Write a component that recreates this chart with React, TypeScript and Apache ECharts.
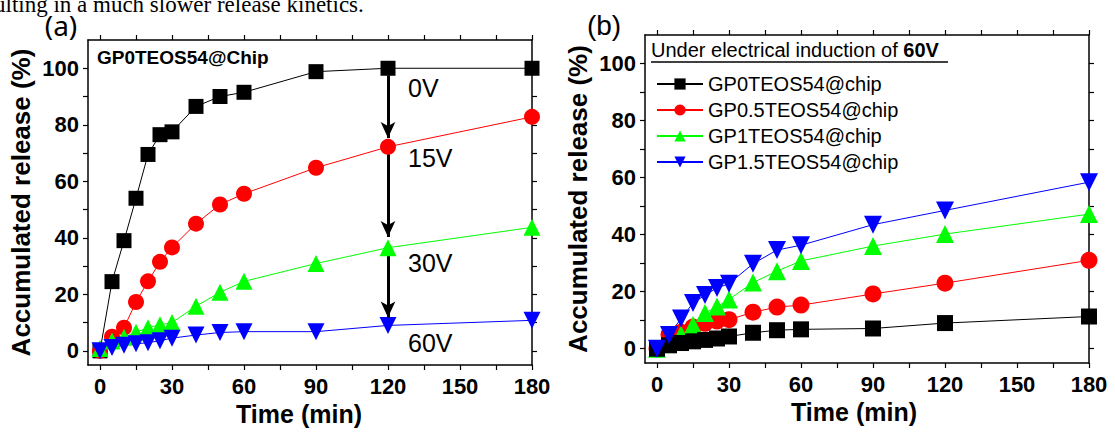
import React, { useEffect, useRef } from "react";
import * as echarts from "echarts";

// ---------- data ----------
const times = [0, 5, 10, 15, 20, 25, 30, 40, 50, 60, 90, 120, 180];

// panel (a): GP0TEOS54@Chip under different voltages
const a0V = [0, 24.5, 39, 54, 69.5, 76.5, 77.5, 86.5, 90, 91.5, 98.8, 100, 100];
const a15V = [0, 5, 8.2, 17.3, 24.6, 31.5, 36.6, 45, 51.8, 55.6, 64.8, 72.2, 82.8];
const a30V = [0.8, 3.5, 4.8, 6.6, 8.2, 9.2, 10, 15.8, 20.7, 24.6, 30.9, 36.5, 43.7];
const a60V = [0, 1.2, 2, 2.5, 2.9, 3.6, 4.5, 5.6, 6.5, 6.8, 6.8, 9, 10.8];

// panel (b): 60V, different GP contents
const bGP0 = [0, 1.2, 2, 2.6, 3.1, 3.6, 4.3, 5.6, 6.5, 6.8, 7.1, 9, 11.3];
const bGP05 = [0, 5, 5.8, 7.6, 8.9, 9.7, 10.2, 12.8, 14.6, 15.3, 19.2, 23, 31];
const bGP1 = [0, 2.4, 5, 8.3, 12.5, 14.8, 17.3, 23.2, 27.2, 30.8, 36, 40.2, 47.2];
const bGP15 = [0, 4.8, 10.6, 16, 18.8, 21.3, 22.8, 29.8, 34.6, 36.3, 43.5, 48.5, 58.4];

const legendNames = ["GP0TEOS54@chip", "GP0.5TEOS54@chip", "GP1TEOS54@chip", "GP1.5TEOS54@chip"];
const voltageLabels = ["0V", "15V", "30V", "60V"];

const xLabelTicks = [0, 30, 60, 90, 120, 150, 180];
const xMinorTicks = [0, 15, 30, 45, 60, 75, 90, 105, 120, 135, 150, 165, 180];
const yLabelTicks = [0, 20, 40, 60, 80, 100];
const yMinorTicks = [0, 10, 20, 30, 40, 50, 60, 70, 80, 90, 100];

// arrow segments at t = 120 (from, to) in release %
const arrowTime = 120;
const arrowSegments: [number, number][] = [
  [97.5, 75.3],
  [69.5, 40.3],
  [33.5, 11.8],
];

const FONT = "'Liberation Sans', Arial, sans-serif";
const BLACK = "#000000";
const RED = "#ff0000";
const GREEN = "#00ff00";
const BLUE = "#0000ff";

function toPts(vals: number[]) {
  return times.map((t, i) => [t, vals[i]]);
}

export default function App() {
  const ref = useRef<HTMLDivElement>(null);

  useEffect(() => {
    if (!ref.current) return;
    const chart = echarts.init(ref.current, undefined, { renderer: "svg" });

    const axisLine = { show: true, onZero: false, lineStyle: { color: BLACK, width: 1.5 } };
    const tickStyle = { color: BLACK, width: 1.2 };

    const makeX = (grid: number, shiftPad: number) => [
      {
        type: "value",
        gridIndex: grid,
        position: "bottom",
        min: -5,
        max: 180,
        axisLine,
        axisTick: { show: true, inside: false, length: 5, customValues: xMinorTicks, lineStyle: tickStyle },
        axisLabel: {
          customValues: xLabelTicks,
          color: BLACK,
          fontSize: 22,
          fontWeight: "bold",
          fontFamily: FONT,
          margin: 10,
        },
        splitLine: { show: false },
        name: "Time (min)",
        nameLocation: "middle",
        nameGap: 33,
        nameTextStyle: {
          color: BLACK,
          fontSize: 25,
          fontWeight: "bold",
          fontFamily: FONT,
          padding: [0, shiftPad, 0, 0],
        },
      },
      {
        type: "value",
        gridIndex: grid,
        position: "top",
        min: -5,
        max: 180,
        axisLine,
        axisTick: { show: true, inside: false, length: 5, customValues: xMinorTicks, lineStyle: tickStyle },
        axisLabel: { show: false },
        splitLine: { show: false },
      },
    ];

    const makeY = (grid: number, gap: number) => [
      {
        type: "value",
        gridIndex: grid,
        position: "left",
        min: -5,
        max: 110,
        axisLine,
        axisTick: { show: true, inside: false, length: 5, customValues: yMinorTicks, lineStyle: tickStyle },
        axisLabel: {
          customValues: yLabelTicks,
          color: BLACK,
          fontSize: 22,
          fontWeight: "bold",
          fontFamily: FONT,
          margin: 9,
        },
        splitLine: { show: false },
        name: "Accumulated release (%)",
        nameLocation: "middle",
        nameGap: gap,
        nameTextStyle: { color: BLACK, fontSize: 26, fontWeight: "bold", fontFamily: FONT },
      },
      {
        type: "value",
        gridIndex: grid,
        position: "right",
        min: -5,
        max: 110,
        axisLine,
        axisTick: { show: true, inside: false, length: 5, customValues: yMinorTicks, lineStyle: tickStyle },
        axisLabel: { show: false },
        splitLine: { show: false },
      },
    ];

    const line = (
      name: string,
      vals: number[],
      color: string,
      symbol: string,
      size: number,
      xi: number,
      yi: number,
      rotate = 0,
      extra: any = {}
    ) => ({
      type: "line",
      name,
      xAxisIndex: xi,
      yAxisIndex: yi,
      data: toPts(vals),
      symbol,
      symbolSize: size,
      symbolRotate: rotate,
      showSymbol: true,
      itemStyle: { color, borderWidth: 0 },
      lineStyle: { color, width: 1 },
      ...extra,
    });

    const arrowMarkLine = {
      silent: true,
      symbol: ["none", "arrow"],
      symbolSize: [11, 16],
      lineStyle: { color: BLACK, width: 3, type: "solid" },
      label: { show: false },
      data: arrowSegments.map(([y1, y2]) => [
        { coord: [arrowTime, y1] },
        { coord: [arrowTime, y2] },
      ]),
    };

    const option: any = {
      animation: false,
      backgroundColor: "#ffffff",
      grid: [
        { left: 88, top: 40, width: 444, height: 325 },
        { left: 645, top: 35, width: 444, height: 328 },
      ],
      xAxis: [...makeX(0, 22), ...makeX(1, 26)],
      yAxis: [...makeY(0, 54), ...makeY(1, 54)],
      legend: {
        data: legendNames,
        orient: "vertical",
        left: 651,
        top: 69,
        itemWidth: 46,
        itemHeight: 14,
        itemGap: 6,
        textStyle: { color: BLACK, fontSize: 20, fontFamily: FONT },
        selectedMode: false,
      },
      series: [
        line(voltageLabels[0], a0V, BLACK, "rect", 15, 0, 0),
        line(voltageLabels[1], a15V, RED, "circle", 16, 0, 0, 0, { markLine: arrowMarkLine }),
        line(voltageLabels[2], a30V, GREEN, "triangle", 17, 0, 0),
        line(voltageLabels[3], a60V, BLUE, "triangle", 17, 0, 0, 180),
        line(legendNames[1], bGP05, RED, "circle", 17, 2, 2),
        line(legendNames[2], bGP1, GREEN, "triangle", 18, 2, 2),
        line(legendNames[0], bGP0, BLACK, "rect", 16, 2, 2),
        line(legendNames[3], bGP15, BLUE, "triangle", 18, 2, 2, 180),
      ],
      graphic: [
        {
          type: "text",
          x: -6,
          y: 16,
          style: {
            text: "ulting in a much slower release kinetics.",
            fontFamily: "'Liberation Serif', 'Times New Roman', serif",
            fontSize: 23,
            fill: BLACK,
            verticalAlign: "bottom",
          },
        },
        {
          type: "text",
          x: 61,
          y: 25,
          style: {
            text: "(a)",
            fontFamily: "'Noto Sans', sans-serif",
            fontSize: 28,
            fill: BLACK,
            align: "center",
            verticalAlign: "middle",
          },
        },
        {
          type: "text",
          x: 604,
          y: 25,
          style: {
            text: "(b)",
            fontFamily: FONT,
            fontSize: 28,
            fill: BLACK,
            align: "center",
            verticalAlign: "middle",
          },
        },
        {
          type: "text",
          x: 97,
          y: 57,
          style: {
            text: "GP0TEOS54@Chip",
            fontFamily: FONT,
            fontSize: 19,
            fontWeight: "bold",
            fill: BLACK,
            align: "left",
            verticalAlign: "middle",
          },
        },
        ...voltageLabels.map((t, i) => ({
          type: "text",
          x: 408,
          y: [88, 158, 263, 343][i],
          style: {
            text: t,
            fontFamily: FONT,
            fontSize: 25,
            fill: BLACK,
            align: "left",
            verticalAlign: "middle",
          },
        })),
        {
          type: "text",
          x: 651,
          y: 50,
          style: {
            text: "{n|Under electrical induction of }{b|60V}",
            rich: {
              n: { fontFamily: FONT, fontSize: 20, fill: BLACK },
              b: { fontFamily: FONT, fontSize: 20, fontWeight: "bold", fill: BLACK },
            },
            align: "left",
            verticalAlign: "middle",
          },
        },
        {
          type: "line",
          shape: { x1: 651, y1: 62, x2: 948, y2: 62 },
          style: { stroke: BLACK, lineWidth: 1.5 },
        },
      ],
    };

    chart.setOption(option);
    return () => chart.dispose();
  }, []);

  return (
    <div
      ref={ref}
      style={{ position: "absolute", left: 0, top: 0, width: 1115, height: 433 }}
    />
  );
}
